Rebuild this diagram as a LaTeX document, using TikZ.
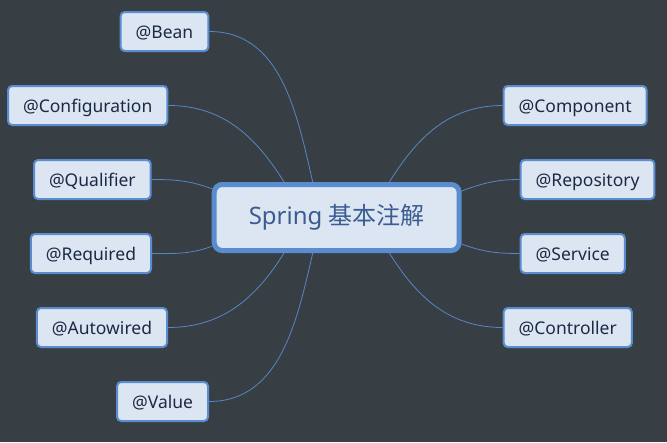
\documentclass[tikz,border=0pt]{standalone}
\usepackage{fontspec}
\setmainfont{Noto Sans}
\newfontfamily\cjk{Noto Sans CJK SC}
\usepackage{xcolor}
\usepackage{tikz}
\definecolor{bgdark}{HTML}{383F44}
\definecolor{boxfill}{HTML}{DCE6F2}
\definecolor{boxline}{HTML}{5A8DD0}
\definecolor{leaftext}{HTML}{1B2A44}
\definecolor{roottext}{HTML}{3A5C92}
\definecolor{linkblue}{HTML}{5586C6}

\begin{document}
\begin{tikzpicture}[x=1pt, y=1pt,
        leaf/.style={draw=boxline, line width=2pt, fill=boxfill, rounded corners=4pt,
            text=leaftext, font=\fontsize{17.5}{20}\selectfont, inner xsep=15pt,
            text height=15.5pt, text depth=2.5pt, minimum height=39pt},
        root/.style={draw=boxline, line width=5pt, fill=boxfill, rounded corners=8pt,
            text=roottext, font=\fontsize{24}{28}\selectfont, minimum width=245pt,
            minimum height=66pt},
        link/.style={draw=linkblue, line width=0.8pt}]
        \fill[bgdark] (0, 0) rectangle (667, -442);

        \node[root] (root) at (336.7, -217.5) {Spring {\cjk 基本注解}};

        \node[leaf, anchor=east] (bean) at (209.3, -31.5) {@Bean};
        \node[leaf, anchor=east] (config) at (168.3, -105.5) {@Configuration};
        \node[leaf, anchor=east] (qualifier) at (151.7, -179.5) {@Qualifier};
        \node[leaf, anchor=east] (required) at (152, -253.5) {@Required};
        \node[leaf, anchor=east] (autowired) at (168, -327.5) {@Autowired};
        \node[leaf, anchor=east] (value) at (209, -401.5) {@Value};

        \node[leaf, anchor=west] (component) at (502.7, -105.5) {@Component};
        \node[leaf, anchor=west] (repository) at (519.7, -179.5) {@Repository};
        \node[leaf, anchor=west] (service) at (519.7, -253.5) {@Service};
        \node[leaf, anchor=west] (controller) at (502.7, -327.5) {@Controller};

        \draw[link] (bean.east) to[out=0, in=103] (root.124);
        \draw[link] (config.east) to[out=0, in=122] (root.146);
        \draw[link] (qualifier.east) to[out=0, in=160] (root.167);
        \draw[link] (required.east) to[out=0, in=200] (root.193);
        \draw[link] (autowired.east) to[out=0, in=238] (root.214);
        \draw[link] (value.east) to[out=0, in=257] (root.236);

        \draw[link] (component.west) to[out=180, in=58] (root.34);
        \draw[link] (repository.west) to[out=180, in=20] (root.12);
        \draw[link] (service.west) to[out=180, in=340] (root.348);
        \draw[link] (controller.west) to[out=180, in=302] (root.326);
\end{tikzpicture}
\end{document}
